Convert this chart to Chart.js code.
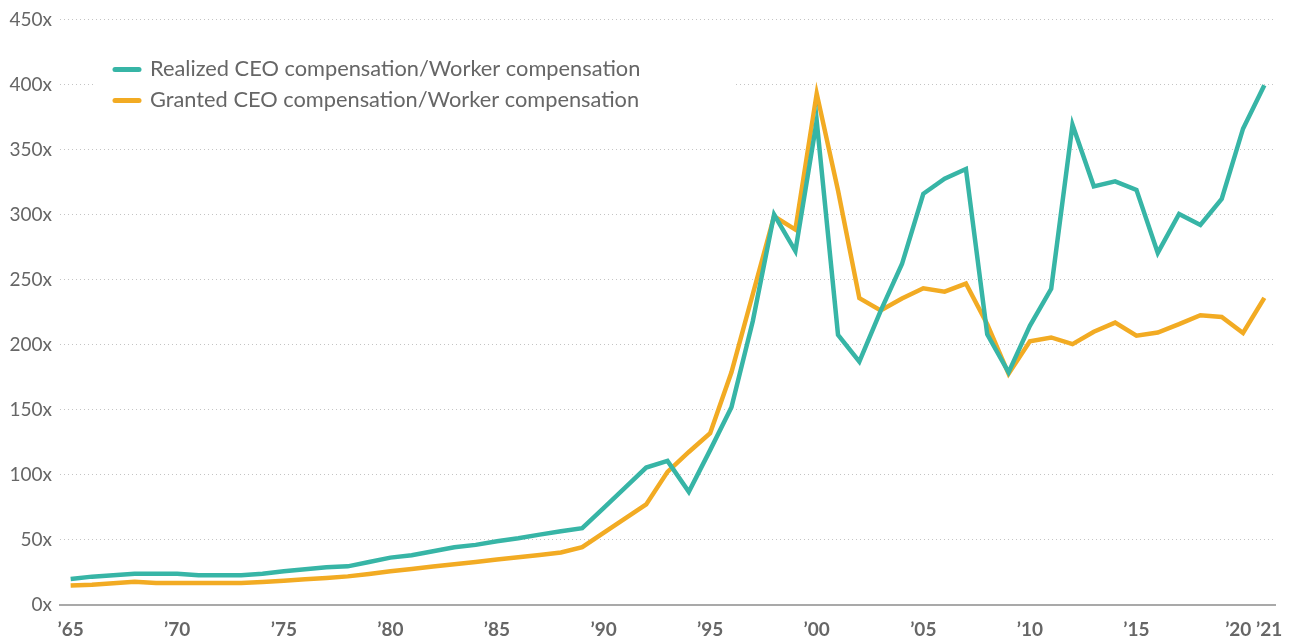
<!DOCTYPE html>
<html>
<head>
<meta charset="utf-8">
<script src="https://cdn.jsdelivr.net/npm/chart.js@4"></script>
<style>
  html, body { margin: 0; padding: 0; background: #ffffff; }
  #wrap { width: 1296px; height: 643px; position: relative; }
</style>
</head>
<body>
<div id="wrap"><canvas id="ceo-chart"></canvas></div>
<script>
const years = [
    1965, 1966, 1967, 1968, 1969, 1970, 1971, 1972, 1973, 1974,
    1975, 1976, 1977, 1978, 1979, 1980, 1981, 1982, 1983, 1984,
    1985, 1986, 1987, 1988, 1989, 1990, 1991, 1992, 1993, 1994,
    1995, 1996, 1997, 1998, 1999, 2000, 2001, 2002, 2003, 2004,
    2005, 2006, 2007, 2008, 2009, 2010, 2011, 2012, 2013, 2014,
    2015, 2016, 2017, 2018, 2019, 2020, 2021
];

const realizedRatio = [
    20.0, 21.8, 22.8, 24.1, 24.1, 24.1, 22.8, 22.8, 22.8, 24.1,
    25.9, 27.4, 29.0, 29.7, 33.0, 36.4, 38.2, 41.3, 44.4, 46.2,
    49.0, 51.3, 54.1, 56.7, 59.0, 74.5, 90.0, 105.6, 110.7, 87.0,
    119.0, 152.0, 218.0, 300.0, 272.0, 372.0, 207.6, 187.0, 226.0, 262.0,
    316.0, 327.6, 335.0, 208.0, 178.8, 214.5, 243.0, 369.0, 321.7, 325.5,
    319.0, 270.6, 300.5, 292.0, 312.0, 366.0, 399.4
];

const grantedRatio = [
    14.9, 15.6, 16.7, 17.9, 16.9, 16.9, 16.9, 16.9, 16.9, 17.7,
    18.7, 19.7, 20.8, 22.0, 23.8, 25.9, 27.7, 29.5, 31.3, 33.0,
    34.9, 36.7, 38.5, 40.3, 44.4, 55.4, 66.3, 77.3, 102.3, 117.6,
    132.0, 178.8, 238.8, 298.7, 288.5, 393.0, 318.5, 235.8, 226.3, 235.5,
    243.4, 240.8, 247.0, 215.8, 177.6, 202.6, 205.6, 200.5, 210.0, 217.0,
    206.9, 209.4, 215.8, 222.7, 221.4, 209.0, 236.0
];

const xTickYears = [1965, 1970, 1975, 1980, 1985, 1990, 1995, 2000, 2005, 2010, 2015, 2020, 2021];
const xTickLabels = ['\u201965', '\u201970', '\u201975', '\u201980', '\u201985', '\u201990', '\u201995', '\u201900', '\u201905', '\u201910', '\u201915', '\u201920', '\u201921'];

const teal = '#37b5a6';
const orange = '#f2ab23';
const textColor = '#666666';
const gridColor = '#c4c4c4';
const fontFamily = 'Lato, "Noto Sans", sans-serif';

function toPoints(values) {
    return years.map((yr, i) => ({ x: yr, y: values[i] }));
}

// legend drawn inside the plot, over a white box that hides the grid
const insideLegend = {
    id: 'insideLegend',
    afterDatasetsDraw(chart) {
        const ctx = chart.ctx;
        const area = chart.chartArea;
        const left = area.left + 33;
        const top = area.top + 31;
        ctx.save();
        ctx.fillStyle = '#ffffff';
        ctx.fillRect(left, top, 640, 66);
        ctx.font = '21.8px ' + fontFamily;
        ctx.textBaseline = 'middle';
        chart.data.datasets.forEach((ds, i) => {
            const y = top + 19 + i * 31;
            ctx.strokeStyle = ds.borderColor;
            ctx.lineWidth = 5;
            ctx.lineCap = 'round';
            ctx.beginPath();
            ctx.moveTo(left + 22, y);
            ctx.lineTo(left + 46, y);
            ctx.stroke();
            ctx.fillStyle = textColor;
            ctx.fillText(ds.label, left + 57, y);
        });
        ctx.restore();
    }
};

const Chart = window.Chart;
const ctx = document.getElementById('ceo-chart').getContext('2d');
new Chart(ctx, {
    type: 'line',
    data: {
        datasets: [
            {
                label: 'Realized CEO compensation/Worker compensation',
                data: toPoints(realizedRatio),
                borderColor: teal,
                borderWidth: 4.5,
                pointRadius: 0,
                tension: 0
            },
            {
                label: 'Granted CEO compensation/Worker compensation',
                data: toPoints(grantedRatio),
                borderColor: orange,
                borderWidth: 4.5,
                pointRadius: 0,
                tension: 0
            }
        ]
    },
    options: {
        responsive: true,
        maintainAspectRatio: false,
        animation: false,
        layout: {
            padding: { top: 17, right: 21, left: 0, bottom: 0 }
        },
        scales: {
            x: {
                type: 'linear',
                min: 1964.5,
                max: 2021.5,
                afterBuildTicks: axis => {
                    axis.ticks = xTickYears.map(v => ({ value: v }));
                },
                afterFit: axis => {
                    axis.height = 38;
                },
                grid: {
                    display: false
                },
                border: {
                    display: true,
                    color: '#a9a9a9',
                    width: 2
                },
                ticks: {
                    autoSkip: false,
                    maxRotation: 0,
                    padding: 5,
                    color: textColor,
                    font: {
                        family: fontFamily,
                        size: 19,
                        weight: 'bold'
                    },
                    callback: function(value) {
                        const i = xTickYears.indexOf(value);
                        if (i < 0) return '';
                        // the last two labels sit close together, nudge them apart
                        if (value === 2020) return xTickLabels[i] + '\u2002';
                        if (value === 2021) return '\u2002' + xTickLabels[i];
                        return xTickLabels[i];
                    }
                }
            },
            y: {
                min: 0,
                max: 450,
                afterFit: axis => {
                    axis.width = 60;
                },
                grid: {
                    color: gridColor,
                    lineWidth: 1,
                    drawTicks: false
                },
                border: {
                    display: false,
                    dash: [1, 3]
                },
                ticks: {
                    stepSize: 50,
                    padding: 8,
                    color: textColor,
                    font: {
                        family: fontFamily,
                        size: 19
                    },
                    callback: function(value) {
                        return value + 'x';
                    }
                }
            }
        },
        plugins: {
            legend: { display: false },
            tooltip: { enabled: false }
        }
    },
    plugins: [insideLegend]
});
</script>
</body>
</html>
